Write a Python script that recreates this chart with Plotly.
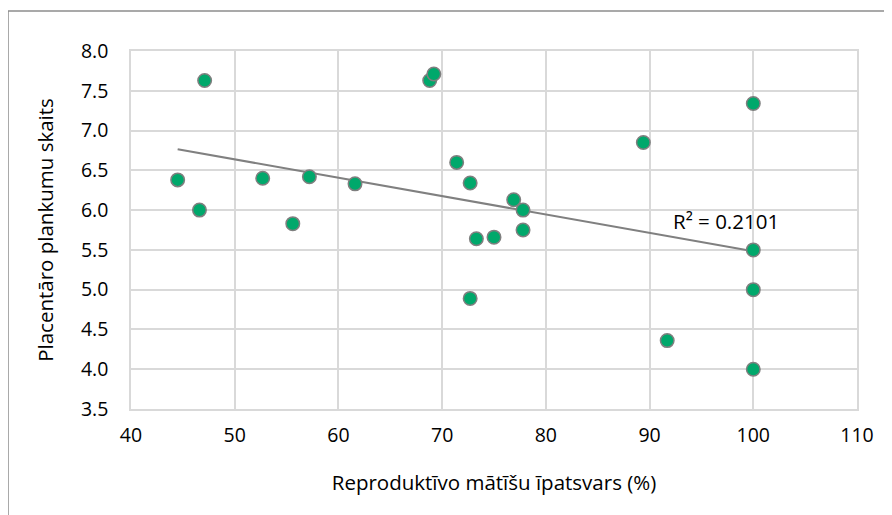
import numpy as np
import plotly.graph_objects as go

# Data
reproductive_share = [44.5, 46.6, 47.1, 52.7, 55.6, 57.2, 61.6, 68.8, 69.2,
                      71.4, 72.7, 72.7, 73.3, 75.0, 76.9, 77.8, 77.8,
                      89.4, 91.7, 100.0, 100.0, 100.0, 100.0]
placental_scars = [6.38, 6.00, 7.63, 6.40, 5.83, 6.42, 6.33, 7.63, 7.71,
                   6.60, 6.34, 4.89, 5.64, 5.66, 6.13, 6.00, 5.75,
                   6.85, 4.36, 7.34, 5.50, 5.00, 4.00]
x_ticks = [40, 50, 60, 70, 80, 90, 100, 110]
y_ticks = [3.5, 4.0, 4.5, 5.0, 5.5, 6.0, 6.5, 7.0, 7.5, 8.0]
r2_label = "R² = 0.2101"

FONT = "Open Sans"

x = np.array(reproductive_share)
y = np.array(placental_scars)
slope, intercept = np.polyfit(x, y, 1)
trend_x = [x.min(), x.max()]
trend_y = [slope * v + intercept for v in trend_x]

fig = go.Figure()
fig.add_trace(go.Scatter(
    x=trend_x, y=trend_y, mode="lines",
    line=dict(color="#808080", width=2), hoverinfo="skip", showlegend=False))
fig.add_trace(go.Scatter(
    x=reproductive_share, y=placental_scars, mode="markers",
    marker=dict(size=13.5, color="#00A86B", line=dict(color="#7F7F7F", width=1.5)),
    showlegend=False))

fig.add_annotation(x=97.4, y=5.86, text=r2_label, showarrow=False,
                   font=dict(family=FONT, size=20.5, color="#000000"))

# figure is placed at page offset (8, 8) by the default body margin
L, T, PW, PH = 123, 43, 726, 358
bx = (0 - L) / PW
by = 1 + (T - 3) / PH
fig.add_shape(type="line", xref="paper", yref="paper",
              x0=bx, x1=bx, y0=by, y1=1 - (520 - T) / PH,
              line=dict(color="#8C8C8C", width=1.5))
fig.add_shape(type="line", xref="paper", yref="paper",
              x0=bx, x1=(900 - L) / PW, y0=by, y1=by,
              line=dict(color="#8C8C8C", width=1.5))

fig.update_layout(
    width=884, height=507,
    margin=dict(l=L, r=884 - L - PW, t=T, b=507 - T - PH),
    paper_bgcolor="white", plot_bgcolor="white",
    font=dict(family=FONT, color="#000000"),
    xaxis=dict(range=[40, 110], tickvals=x_ticks, showgrid=True,
               gridcolor="#D9D9D9", gridwidth=1.5, zeroline=False,
               showline=True, linecolor="#D9D9D9", linewidth=1.5, mirror=True,
               tickfont=dict(family=FONT, size=19.5), ticks="", ticklen=0,
               ticklabelstandoff=8,
               title=dict(text="Reproduktīvo mātīšu īpatsvars (%)",
                          font=dict(family=FONT, size=20.5), standoff=28)),
    yaxis=dict(range=[3.5, 8.0], tickvals=y_ticks, tickformat=".1f", showgrid=True,
               gridcolor="#D9D9D9", gridwidth=1.5, zeroline=False,
               showline=True, linecolor="#D9D9D9", linewidth=1.5, mirror=True,
               tickfont=dict(family=FONT, size=19.5), ticks="", ticklen=0,
               ticklabelstandoff=17,
               title=dict(text="Placentāro plankumu skaits",
                          font=dict(family=FONT, size=20.5), standoff=22)),
)

fig.write_html("out.html")
